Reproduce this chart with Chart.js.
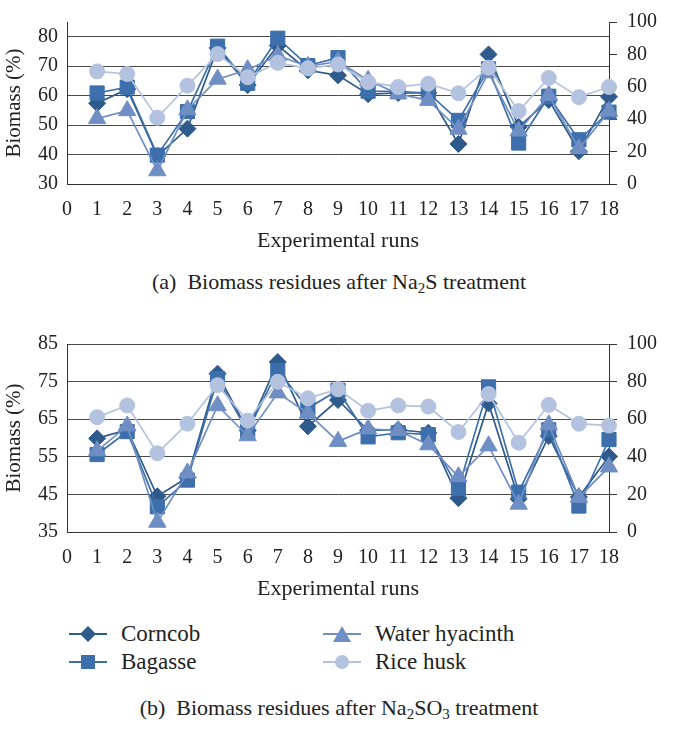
<!DOCTYPE html>
<html>
<head>
<meta charset="utf-8">
<script src="https://cdn.jsdelivr.net/npm/chart.js@4"></script>
<style>
  body { margin: 0; background: #fff; }
  #wrap { position: relative; width: 678px; height: 732px; font-family: 'Liberation Serif', 'Times New Roman', 'DejaVu Serif', serif; color: #222; }
  canvas { position: absolute; left: 0; }
  .cap { position: absolute; left: 0; width: 678px; text-align: center; font-size: 22px; line-height: 26px; }
  .cap sub { font-size: 15px; vertical-align: -4px; line-height: 0; }
  .leg { position: absolute; font-size: 23px; line-height: 26px; display: flex; align-items: center; }
  .leg svg { margin-right: 14px; }
</style>
</head>
<body>
<div id="wrap">
  <canvas id="chartA" width="678" height="254" style="top:0"></canvas>
  <div class="cap" style="top:269px">(a)&nbsp; Biomass residues after Na<sub>2</sub>S treatment</div>
  <canvas id="chartB" width="678" height="280" style="top:322px"></canvas>

  <div class="leg" style="left:69px;top:621px">
    <svg width="38" height="20"><line x1="0" y1="10" x2="38" y2="10" stroke="#2E5A8C" stroke-width="2"/><polygon points="19,2 27,10 19,18 11,10" fill="#2E5A8C"/></svg>Corncob</div>
  <div class="leg" style="left:69px;top:649px">
    <svg width="38" height="20"><line x1="0" y1="10" x2="38" y2="10" stroke="#3C6FAB" stroke-width="2"/><rect x="12" y="3" width="14" height="14" fill="#3C6FAB"/></svg>Bagasse</div>
  <div class="leg" style="left:323px;top:621px">
    <svg width="38" height="20"><line x1="0" y1="10" x2="38" y2="10" stroke="#6F8EC4" stroke-width="2"/><polygon points="19,2 28,18 10,18" fill="#6F8EC4"/></svg>Water hyacinth</div>
  <div class="leg" style="left:323px;top:649px">
    <svg width="38" height="20"><line x1="0" y1="10" x2="38" y2="10" stroke="#B3C3DF" stroke-width="2"/><circle cx="19" cy="10" r="7" fill="#B3C3DF"/></svg>Rice husk</div>

  <div class="cap" style="top:695px">(b)&nbsp; Biomass residues after Na<sub>2</sub>SO<sub>3</sub> treatment</div>
</div>

<script>
// experimental runs
var runs = [1, 2, 3, 4, 5, 6, 7, 8, 9, 10, 11, 12, 13, 14, 15, 16, 17, 18];

// (a) Na2S treatment, biomass (%) - rice husk read on the secondary axis
var corncobA  = [57.4, 62.2, 39.5, 48.8, 76.2, 63.6, 77.0, 68.6, 66.9, 60.5, 60.9, 60.9, 43.6, 74.0, 49.4, 58.5, 41.1, 59.6];
var bagasseA  = [60.9, 62.9, 39.8, 54.6, 76.8, 64.2, 79.5, 70.2, 72.9, 61.5, 61.4, 60.9, 51.6, 69.1, 43.9, 59.8, 45.0, 54.4];
var hyacinthA = [52.2, 54.9, 34.5, 55.2, 65.6, 68.8, 73.6, 69.9, 71.6, 65.2, 60.6, 58.4, 48.6, 67.8, 48.0, 60.1, 42.0, 54.7];
var riceA     = [69.5, 67.9, 40.9, 60.7, 80.2, 65.9, 74.8, 71.4, 73.8, 62.9, 59.9, 61.9, 56.0, 71.8, 45.0, 65.5, 53.6, 59.9];

// (b) Na2SO3 treatment
var corncobB  = [59.9, 62.2, 44.5, 49.5, 77.1, 62.0, 80.2, 63.1, 70.1, 62.0, 62.2, 61.4, 44.0, 69.2, 43.8, 60.5, 44.3, 55.1];
var bagasseB  = [55.6, 61.7, 41.7, 48.8, 75.8, 61.8, 78.0, 67.9, 72.7, 60.3, 61.4, 60.9, 46.6, 73.6, 45.6, 62.2, 41.9, 59.6];
var hyacinthB = [56.6, 63.2, 37.6, 50.7, 68.6, 60.6, 72.0, 66.6, 59.1, 62.4, 62.0, 58.2, 49.7, 57.9, 42.4, 63.5, 44.2, 52.3];
var riceB     = [61.1, 67.3, 41.9, 57.6, 78.1, 59.2, 79.9, 71.1, 76.0, 64.5, 67.3, 66.7, 53.2, 73.4, 47.5, 67.6, 57.6, 56.6];

var seriesNames = ['Corncob', 'Bagasse', 'Water hyacinth', 'Rice husk'];
var colors = ['#2E5A8C', '#3C6FAB', '#6F8EC4', '#B3C3DF'];
var styles = ['rectRot', 'rect', 'triangle', 'circle'];
var radii = [8.5, 10, 10, 7.5];

var FONT = "'Liberation Serif', 'Times New Roman', 'DejaVu Serif', serif";

function pts(vals) {
    return runs.map((r, i) => ({ x: r, y: vals[i] }));
}

function makeChart(id, data, leftMin, topPad) {
    var datasets = data.map((vals, i) => ({
        label: seriesNames[i],
        data: pts(vals),
        yAxisID: i === 3 ? 'y1' : 'y',
        borderColor: colors[i],
        backgroundColor: colors[i],
        pointBackgroundColor: colors[i],
        pointBorderColor: colors[i],
        pointBorderWidth: 1,
        pointStyle: styles[i],
        pointRadius: radii[i],
        borderWidth: 1.7,
        tension: 0,
        clip: false,
        order: 3 - i,
    }));

    new Chart(document.getElementById(id), {
        type: 'line',
        data: { datasets: datasets },
        options: {
            responsive: false,
            animation: false,
            layout: { padding: { top: topPad, left: 0, right: 0, bottom: 0 } },
            plugins: { legend: { display: false }, tooltip: { enabled: false } },
            scales: {
                x: {
                    type: 'linear',
                    min: 0,
                    max: 18,
                    ticks: { stepSize: 1, autoSkip: false, maxRotation: 0, color: '#222', padding: 6, font: { family: FONT, size: 20 } },
                    grid: { display: false },
                    border: { display: true, color: '#333', width: 1 },
                    title: { display: true, text: 'Experimental runs', color: '#222', font: { family: FONT, size: 22 }, padding: { top: 4, bottom: 0 } },
                    afterFit: function (s) { s.height = 70; },
                },
                y: {
                    position: 'left',
                    min: leftMin,
                    max: 85,
                    ticks: {
                        stepSize: 5,
                        color: '#222',
                        padding: 9,
                        font: { family: FONT, size: 20 },
                        callback: function (v) { return (v - leftMin) % 10 === 0 ? v : ''; },
                    },
                    grid: { color: '#4a4a4a', lineWidth: 1, drawTicks: false },
                    border: { color: '#333', width: 1 },
                    title: { display: true, text: 'Biomass (%)', color: '#222', font: { family: FONT, size: 21 }, padding: { top: 2, bottom: 2 } },
                    afterFit: function (s) { s.width = 67; },
                },
                y1: {
                    position: 'right',
                    min: 0,
                    max: 100,
                    ticks: { stepSize: 20, color: '#222', padding: 10, font: { family: FONT, size: 20 } },
                    grid: { drawOnChartArea: false, drawTicks: true, tickLength: 8, color: '#333' },
                    border: { color: '#333', width: 1 },
                    afterFit: function (s) { s.width = 69; },
                },
            },
        },
    });
}

makeChart('chartA', [corncobA, bagasseA, hyacinthA, riceA], 30, 17);
makeChart('chartB', [corncobB, bagasseB, hyacinthB, riceB], 35, 20);
</script>
</body>
</html>
